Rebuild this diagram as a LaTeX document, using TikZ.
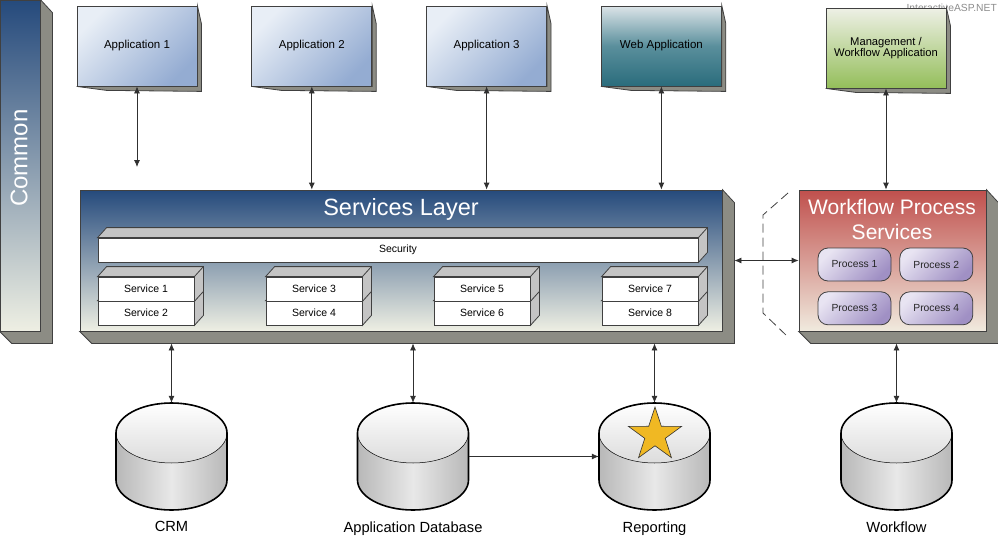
\documentclass[tikz,border=0pt]{standalone}
\usepackage{fontspec}
\setmainfont{Liberation Sans}
\usetikzlibrary{arrows.meta,shapes.geometric,calc,positioning}

\definecolor{edgegray}{HTML}{404040}
\definecolor{sidegray}{HTML}{8C8C84}
\definecolor{facegray}{HTML}{C4C4C4}
\definecolor{layerblue}{HTML}{254A7C}
\definecolor{layercream}{HTML}{EEEFE3}
\definecolor{wfred}{HTML}{C0504D}
\definecolor{wfcream}{HTML}{F0EADE}
\definecolor{applight}{HTML}{E8EEF6}
\definecolor{appblue}{HTML}{94ACD2}
\definecolor{weblight}{HTML}{DCE4E8}
\definecolor{webmid}{HTML}{5A8F9C}
\definecolor{webteal}{HTML}{2A6C7C}
\definecolor{mgmtlight}{HTML}{EEF0E6}
\definecolor{mgmtgreen}{HTML}{94BE5A}
\definecolor{proclight}{HTML}{E8E4F2}
\definecolor{procpurple}{HTML}{A090C4}
\definecolor{dbdark}{HTML}{B8B8B8}
\definecolor{dblight}{HTML}{E8E8E8}
\definecolor{dbtop}{HTML}{DCDCDC}
\definecolor{starorange}{HTML}{F0B823}
\definecolor{linkgray}{HTML}{303030}

\tikzset{
  appbox/.style={draw=edgegray, line width=0.8pt, minimum width=120, minimum height=80, inner sep=0,
    top color=applight, bottom color=appblue, shading angle=45, align=center,
    font=\fontsize{11.5}{12}\selectfont},
  layerbox/.style={draw=edgegray, line width=0.8pt, inner sep=0, top color=layerblue, bottom color=layercream},
  svcblock/.style={draw=edgegray, line width=0.8pt, fill=white, minimum width=96, minimum height=24, inner sep=0,
    font=\fontsize{10.5}{12}\selectfont},
  procbox/.style={draw=edgegray, line width=0.8pt, rounded corners=10pt, minimum width=73, minimum height=33, inner sep=0,
    top color=proclight, bottom color=procpurple, shading angle=45, text=black!85,
    font=\fontsize{10.3}{12}\selectfont},
  drum/.style={minimum width=111, minimum height=107, inner sep=0},
  drumlabel/.style={inner sep=0, font=\fontsize{14.7}{16}\selectfont},
  link/.style={draw=linkgray, line width=0.8pt}
}

% oblique side of a layer box
\newcommand{\deepside}[1]{%
  \filldraw[fill=sidegray, draw=edgegray, line width=0.8pt] (#1.north east) -- ++(12,-13)
    -- ($(#1.south east)+(12,-12)$) -- ($(#1.south west)+(12,-12)$) -- (#1.south west)
    -- (#1.south east) -- cycle;}
% shadow side of an application box
\newcommand{\appside}[1]{%
  \filldraw[fill=sidegray, draw=edgegray, line width=0.8pt] (#1.north east) -- ++(4,-18)
    -- ($(#1.south east)+(4,-5)$) -- ($(#1.south west)+(30,-4)$) -- (#1.south west)
    -- (#1.south east) -- cycle;}
% top and right face of a service block
\newcommand{\blockside}[1]{%
  \filldraw[fill=facegray, draw=edgegray, line width=0.8pt] (#1.north west) -- ++(9,10)
    -- ($(#1.north east)+(9,10)$) -- ($(#1.south east)+(9,10)$) -- (#1.south east) -- (#1.north east) -- cycle;
  \draw[edgegray, line width=0.8pt] (#1.north east) -- ++(9,10);}
% database cylinder on a drum node
\newcommand{\drumshape}[1]{%
  \shade[left color=dbdark, right color=dbdark, middle color=dblight]
    ($(#1.center)+(-55.5,23.5)$) -- ++(0,-47) arc[start angle=180,end angle=360,x radius=55.5,y radius=30]
    -- ++(0,47) arc[start angle=0,end angle=180,x radius=55.5,y radius=30] -- cycle;
  \shade[top color=white, bottom color=dbtop] ($(#1.center)+(0,23.5)$) ellipse[x radius=55.5,y radius=30];
  \draw[line width=0.5pt] ($(#1.center)+(0,23.5)$) ellipse[x radius=55.5,y radius=30];
  \draw[line width=1.6pt] ($(#1.center)+(-55.5,23.5)$) -- ++(0,-47)
    arc[start angle=180,end angle=360,x radius=55.5,y radius=30]
    -- ++(0,47) arc[start angle=0,end angle=180,x radius=55.5,y radius=30];}

\begin{document}
\begin{tikzpicture}[x=1pt, y=1pt, >={Latex[length=7pt,width=6pt]}]
  \useasboundingbox (0,0) rectangle (998,-538);

  \node[anchor=east, inner sep=0, text=black!45, font=\fontsize{10.3}{12}\selectfont] (wmark) at (997,-7.5) {InteractiveASP.NET};

  % common bar
  \node[layerbox, minimum width=40, minimum height=331] (common) at (20,-165.5) {};
  \deepside{common}
  \node[rotate=90, text=white, font=\fontsize{24}{28}\selectfont] (commontitle) at (19,-158) {Common};

  % applications
  \node[appbox] (app1) at (137,-46) {Application 1};
  \node[appbox, right=54 of app1] (app2) {Application 2};
  \node[appbox, right=54 of app2] (app3) {Application 3};
  \node[appbox, right=54 of app3, top color=weblight, bottom color=webteal, middle color=webmid] (webapp) {Web Application};
  \node[appbox, top color=mgmtlight, bottom color=mgmtgreen, font=\fontsize{11.2}{11.5}\selectfont] (mgmt) at (886,-48) {Management /\\Workflow Application};
  \foreach \a in {app1,app2,app3,webapp,mgmt}{\appside{\a}}

  % services layer
  \node[layerbox, minimum width=642, minimum height=141] (svclayer) at (401,-260.5) {};
  \deepside{svclayer}
  \node[text=white, font=\fontsize{23.5}{26}\selectfont] (svctitle) at (401,-209) {Services Layer};

  \node[svcblock, minimum width=600] (security) at (398,-250) {Security};
  \blockside{security}

  \coordinate (s1pos) at (146,-289);
  \foreach \i [count=\k from 0] in {1,3,5,7} {
    \pgfmathtruncatemacro{\j}{\i+1}
    \node[svcblock] (svc\j) at ($(s1pos)+(168*\k,-24)$) {Service \j};
    \blockside{svc\j}
    \node[svcblock] (svc\i) at ($(s1pos)+(168*\k,0)$) {Service \i};
    \blockside{svc\i}
  }

  % workflow process services
  \node[layerbox, top color=wfred, bottom color=wfcream, minimum width=187, minimum height=141] (wfproc) at (892.5,-260.5) {};
  \deepside{wfproc}
  \node[text=white, align=center, font=\fontsize{21}{25}\selectfont] (wftitle) at (892,-219.5) {Workflow Process\\Services};
  \node[procbox] (proc1) at (854.5,-264.5) {Process 1};
  \node[procbox, right=8 of proc1] (proc2) {Process 2};
  \node[procbox, below=10 of proc1] (proc3) {Process 3};
  \node[procbox, right=8 of proc3] (proc4) {Process 4};

  \draw[edgegray, line width=0.8pt, dash pattern=on 9pt off 5pt] (788,-193) -- (763,-215) -- (763,-313) -- (788,-337);

  % databases
  \node[drum] (crmdb) at (171.5,-456.5) {};
  \node[drum] (appdb) at (413,-456.5) {};
  \node[drum] (repdb) at (654.5,-456.5) {};
  \node[drum] (wfdb) at (896.5,-456.5) {};
  \foreach \d in {crmdb,appdb,repdb,wfdb}{\drumshape{\d}}
  \node[star, star points=5, star point ratio=2.6, minimum size=56, inner sep=0, fill=starorange, draw=black!80, line width=0.6pt] (repstar) at (655,-435) {};

  \node[drumlabel, below=11 of crmdb] (crmlbl) {CRM};
  \node[drumlabel, below=11 of appdb] (applbl) {Application Database};
  \node[drumlabel, below=11 of repdb] (replbl) {Reporting};
  \node[drumlabel, below=11 of wfdb] (wflbl) {Workflow};

  % connectors
  \coordinate (app1end) at (137,-167);
  \coordinate (svcbase) at ($(svclayer.south)+(0,-12)$);
  \coordinate (svcedge) at ($(svclayer.east)+(12,0)$);
  \draw[link, <->] (app1.south) -- (app1end);
  \foreach \a in {app2,app3,webapp}
    \draw[link, <->] (\a.south) -- (\a.south |- svclayer.north);
  \draw[link, <->] (mgmt.south) -- (mgmt.south |- wfproc.north);
  \draw[link, <->] (wfproc.west) -- (wfproc.west -| svcedge);
  \foreach \d in {crmdb,appdb,repdb}
    \draw[link, <->] (\d.north) -- (\d.north |- svcbase);
  \draw[link, <->] (wfdb.north) -- (wfdb.north |- svcbase);
  \draw[link, ->] (appdb.east) -- (repdb.west);
\end{tikzpicture}
\end{document}
